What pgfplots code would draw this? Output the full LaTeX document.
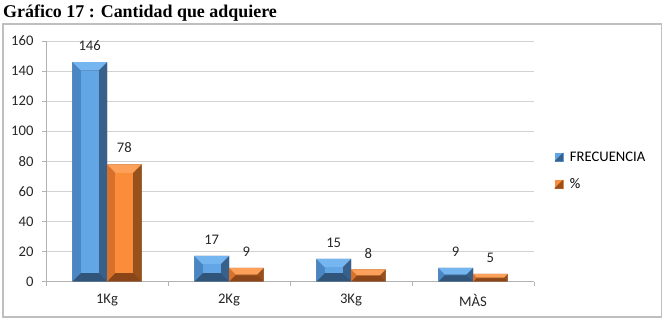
\documentclass[border=0pt]{standalone}
\usepackage{pgfplots}
\pgfplotsset{compat=1.18}
\usepackage{pgfplotstable}
\usepackage{fontspec}
\setmainfont{Carlito}
\newfontfamily\titlefont{Liberation Serif}
\definecolor{BL}{RGB}{74,134,196}
\definecolor{BF}{RGB}{98,166,230}
\definecolor{BT}{RGB}{118,182,240}
\definecolor{BR}{RGB}{55,96,138}
\definecolor{BB}{RGB}{48,84,122}
\definecolor{OL}{RGB}{214,112,42}
\definecolor{OF}{RGB}{250,140,58}
\definecolor{OT}{RGB}{252,160,90}
\definecolor{OR}{RGB}{152,80,28}
\definecolor{OB}{RGB}{138,70,24}
\pgfplotstableread{
x freq pct
0 146 78
1 17 9
2 15 8
3 9 5
}\datatable
\newcommand\bevelbar[6]{%
  \pgfmathsetmacro\bL{#1-0.142}%
  \pgfmathsetmacro\bR{#1+0.142}%
  \pgfmathsetmacro\bpx{min(8.5,#2*1.503/2)}%
  \pgfmathsetmacro\bLi{\bL+\bpx/122}%
  \pgfmathsetmacro\bRi{\bR-\bpx/122}%
  \pgfmathsetmacro\bB{\bpx/1.503}%
  \pgfmathsetmacro\bT{#2-\bB}%
  \edef\temp{%
   \noexpand\addplot[fill=#6,draw=none,forget plot] coordinates {(\bR,0) (\bR,#2) (\bRi,\bT) (\bRi,\bB)};
   \noexpand\addplot[fill=#3,draw=none,forget plot] coordinates {(\bL,0) (\bL,#2) (\bLi,\bT) (\bLi,\bB)};
   \noexpand\addplot[fill=#5,draw=none,forget plot] coordinates {(\bL,#2) (\bR,#2) (\bRi,\bT) (\bLi,\bT)};
   \noexpand\addplot[fill=#4,draw=none,forget plot] coordinates {(\bLi,\bB) (\bRi,\bB) (\bRi,\bT) (\bLi,\bT)};
  }\temp}
\begin{document}
\begin{tikzpicture}
\path[use as bounding box] (0,0) rectangle (663bp,319bp);
\clip (0,0) rectangle (663bp,319bp);
\node[anchor=base west, inner sep=0pt, font=\titlefont\bfseries\fontsize{18}{20}\selectfont] at (3bp,301.5bp) {Gráfico 17 : Cantidad que adquiere};
\draw[gray!50, line width=1.2bp] (3bp,2bp) rectangle (661.5bp,295bp);
\begin{axis}[
  at={(46bp,37.5bp)}, anchor=south west,
  width=488bp, height=240.5bp, scale only axis,
  xmin=-0.5, xmax=3.5, ymin=0, ymax=160,
  clip=false,
  axis lines*=left,
  axis line style={-, draw=gray!60, line width=0.8bp},
  ytick={0,20,...,160},
  xtick={-0.5,0.5,1.5,2.5,3.5}, xticklabels={},
  extra x ticks={0,1,2,3},
  extra x tick labels={1Kg,2Kg,3Kg,MÀS},
  extra x tick style={tick style={draw=none}},
  tick align=outside, major tick length=4bp,
  tick style={draw=gray!60, line width=0.8bp},
  ymajorgrids, grid style={draw=gray!35, line width=0.9bp},
  ticklabel style={font=\fontsize{14.7}{17}\selectfont, text=black!85},
  xticklabel style={yshift=-5bp},
  yticklabel style={xshift=-5bp},
  /pgf/number format/assume math mode=true,
  legend style={at={(1.042,0.46)}, anchor=west, draw=none, fill=none,
    font=\fontsize{14.7}{17}\selectfont, row sep=12bp, inner sep=0pt,
    cells={anchor=west}},
  legend cell align=left,
]
\addlegendimage{legend image code/.code={\fill[BF] (0bp,-4bp) rectangle (8bp,4bp); \fill[BR] (8bp,4bp)--(8bp,-4bp)--(0bp,-4bp)--cycle; \path[draw=none,fill=none] (0bp,0bp) -- (13bp,0bp);}}
\addlegendentry{FRECUENCIA}
\addlegendimage{legend image code/.code={\fill[OF] (0bp,-4bp) rectangle (8bp,4bp); \fill[OR] (8bp,4bp)--(8bp,-4bp)--(0bp,-4bp)--cycle; \path[draw=none,fill=none] (0bp,0bp) -- (13bp,0bp);}}
\addlegendentry{\%}
\addplot[ybar, bar width=0.284, bar shift=-0.142, fill=BB, draw=none, forget plot,
  nodes near coords, every node near coord/.append style={font=\fontsize{14.7}{17}\selectfont, text=black!85, anchor=south, inner sep=0pt, yshift=11bp, xshift=-17.3bp}]
  table[x=x, y=freq] {\datatable};
\addplot[ybar, bar width=0.284, bar shift=0.142, fill=OB, draw=none, forget plot,
  nodes near coords, every node near coord/.append style={font=\fontsize{14.7}{17}\selectfont, text=black!85, anchor=south, inner sep=0pt, yshift=11bp, xshift=17.3bp}]
  table[x=x, y=pct] {\datatable};
\bevelbar{-0.142}{146}{BL}{BF}{BT}{BR}
\bevelbar{0.142}{78}{OL}{OF}{OT}{OR}
\bevelbar{0.858}{17}{BL}{BF}{BT}{BR}
\bevelbar{1.142}{9}{OL}{OF}{OT}{OR}
\bevelbar{1.858}{15}{BL}{BF}{BT}{BR}
\bevelbar{2.142}{8}{OL}{OF}{OT}{OR}
\bevelbar{2.858}{9}{BL}{BF}{BT}{BR}
\bevelbar{3.142}{5}{OL}{OF}{OT}{OR}
\end{axis}
\end{tikzpicture}
\end{document}
